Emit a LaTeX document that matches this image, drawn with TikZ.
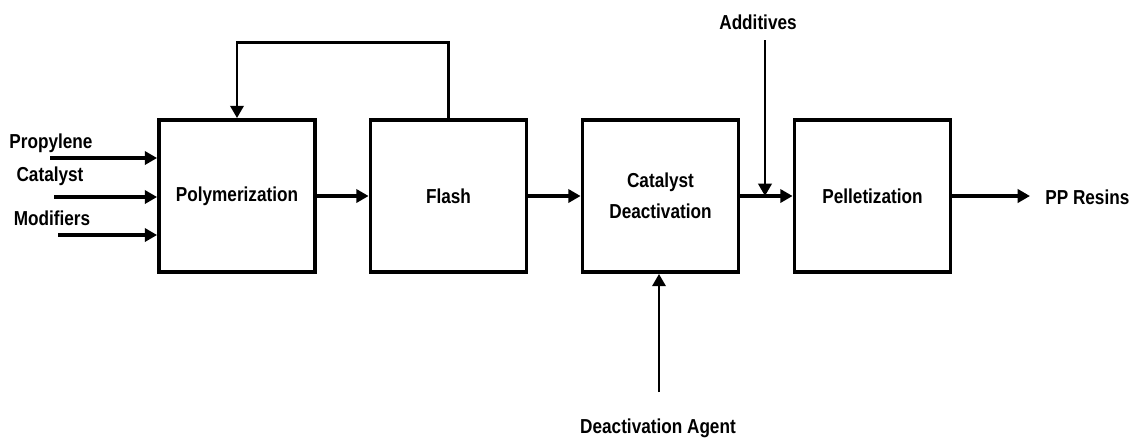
\documentclass[tikz,border=0pt]{standalone}
\usepackage{fontspec}
\setmainfont{Liberation Sans}[FakeStretch=0.85]
\usepackage{tikz}
\usetikzlibrary{positioning,arrows.meta}

\begin{document}
\begin{tikzpicture}[x=0.02cm, y=-0.02cm,
    unit/.style={draw, line width=2.2pt, minimum width=3.12cm, minimum height=3.04cm,
      align=center, font=\fontsize{11.5}{17.6}\selectfont\bfseries},
    lbl/.style={font=\fontsize{11.5}{13}\selectfont\bfseries, inner sep=0pt},
    flow/.style={line width=2.2pt, -{Triangle[length=7pt,width=7.5pt]}},
    feed/.style={line width=1.7pt, -{Triangle[length=7pt,width=7.5pt]}}]
  % page size = reference size in pixels
  \useasboundingbox (0,0) rectangle (1137,441);

  % Process units
  \node[unit] (poly) at (237,196) {Polymerization};
  \node[unit] (flash) at (448.5,196) {Flash};
  \node[unit] (cd) at (660.5,196) {Catalyst\\Deactivation};
  \node[unit] (pell) at (872.5,196) {Pelletization};

  % Feeds into the reactor
  \node[lbl] (prop) at (51,143) {Propylene};
  \node[lbl] (cat) at (50,176) {Catalyst};
  \node[lbl] (mod) at (52,218) {Modifiers};
  \coordinate (propin) at (50,158);
  \coordinate (catin) at (54,197);
  \coordinate (modin) at (58,235);
  \draw[flow] (propin) -- (propin -| poly.west);
  \draw[flow] (catin) -- (catin -| poly.west);
  \draw[flow] (modin) -- (modin -| poly.west);

  % Main line
  \draw[flow] (poly) -- (flash);
  \draw[flow] (flash) -- (cd);
  \draw[flow] (cd) -- (pell);

  % Recycle from flash back to reactor
  \draw[feed] (flash.north) -- ++(0,-76) -| (poly.north);

  % Additives
  \node[lbl] (add) at (758,22) {Additives};
  \coordinate (addin) at (765,40);
  \draw[feed] (addin) -- (addin |- cd.east);

  % Deactivation agent
  \node[lbl] (agent) at (658,428) {Deactivation Agent};
  \coordinate (agentin) at (659,392);
  \draw[feed] (agentin) -- (agentin |- cd.south);

  % Product
  \node[lbl, anchor=west] (pp) at (1045,197) {PP Resins};
  \coordinate (ppout) at (1030,196);
  \draw[flow] (pell) -- (ppout);
\end{tikzpicture}
\end{document}
